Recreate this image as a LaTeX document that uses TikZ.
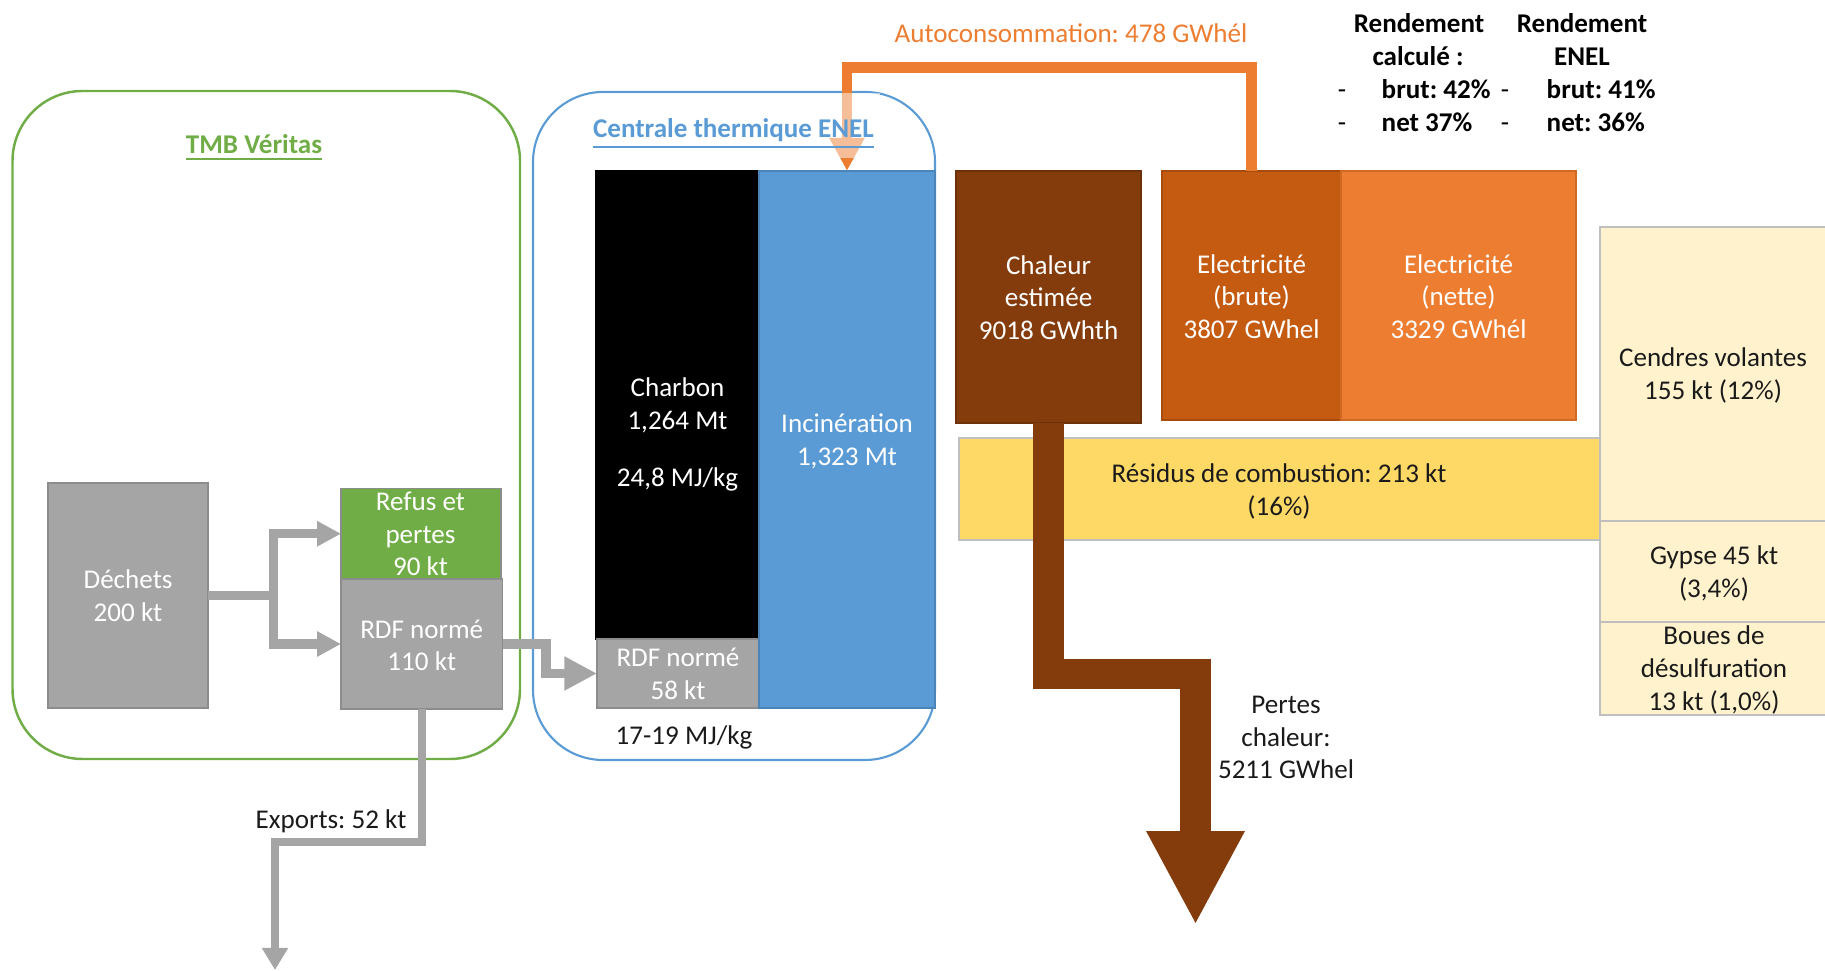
\documentclass[tikz,border=0pt]{standalone}
\usepackage{fontspec}
\setmainfont{Carlito}
\usetikzlibrary{arrows.meta}
\frenchspacing

\definecolor{grisbox}{HTML}{A5A5A5}
\definecolor{grisbord}{HTML}{8C8C8C}
\definecolor{vert}{HTML}{70AD47}
\definecolor{vertbord}{HTML}{5E9A3A}
\definecolor{bleu}{HTML}{5B9BD5}
\definecolor{bleubord}{HTML}{4A84B8}
\definecolor{brun}{HTML}{843C0C}
\definecolor{brunbord}{HTML}{6E320A}
\definecolor{orfonce}{HTML}{C55A11}
\definecolor{orfoncebord}{HTML}{A84C0E}
\definecolor{orclair}{HTML}{ED7D31}
\definecolor{orclairbord}{HTML}{CF6A26}
\definecolor{jaune}{HTML}{FFD966}
\definecolor{creme}{HTML}{FFF2CC}
\definecolor{cremebord}{HTML}{BFBFBF}
\definecolor{encre}{HTML}{1A1A1A}

\newcommand\fs{\fontsize{7.7}{9.3}\selectfont}

% rectangular block given by its two corners (pixel grid, y downwards)
\newcommand\bloc[6]{%
  \node[blk,#6,minimum width={(#4-#2)*0.01cm},minimum height={(#5-#3)*0.01cm}]
    (#1) at ({(#2+#4)/2},{(#3+#5)/2}) {};}

\tikzset{
  every node/.style={font=\fs},
  blk/.style={rectangle, inner sep=0pt, outer sep=0pt, line width=0.5pt},
  wtxt/.style={text=white, align=center, inner sep=0pt},
  dtxt/.style={text=encre, align=center, inner sep=0pt},
  one/.style={text height=5.3pt, text depth=1.4pt},
  titre/.style={font=\fs\bfseries, inner sep=0pt, one},
  gras/.style={font=\fs\bfseries, text=black, inner sep=0pt, one},
  gflow/.style={draw=grisbox, line width=2.6pt, line join=miter},
  heat/.style={draw=brun, line width=8.8pt, line join=miter,
    -{Triangle[length=26.7pt,width=26pt]}},
  selfuse/.style={draw=orclair, line width=3.1pt, line join=miter,
    -{Triangle[length=9.4pt,width=9.4pt]}},
}

\begin{document}
\begin{tikzpicture}[x=0.01cm,y=-0.01cm]
\useasboundingbox (0,0) rectangle (1825,971);

% ---- enclosures ----
\bloc{tmb}{12.5}{91}{520}{759}{draw=vert,line width=0.7pt,rounded corners=0.7cm}
\bloc{enel}{533}{92}{935}{760}{draw=bleu,line width=0.6pt,rounded corners=0.7cm}

% ---- sorting plant ----
\bloc{dech}{48}{483}{208}{708}{fill=grisbox,draw=grisbord}
\bloc{refus}{341}{488.5}{501}{579}{fill=vert,draw=grisbord}
\bloc{rdf1}{341}{579}{502.5}{709}{fill=grisbox,draw=grisbord}
\node[wtxt] (dech-t) at (dech.center) {Déchets\\200 kt};
\node[wtxt] (refus-t) at (420.5,534) {Refus et\\pertes\\90 kt};
\node[wtxt] (rdf1-t) at (421.75,645.5) {RDF normé\\110 kt};

% ---- power plant inputs ----
\bloc{charb}{596}{171}{759}{639}{fill=black,draw=black}
\bloc{rdf2}{597}{639}{759}{708}{fill=grisbox,draw=grisbord}
\bloc{incin}{759}{171}{935}{708}{fill=bleu,draw=bleubord}
\node[wtxt] (charb-t) at (677.5,434.5) {Charbon\\1,264 Mt\\[7pt]24,8 MJ/kg};
\node[wtxt] (rdf2-t) at (678,674) {RDF normé\\58 kt};
\node[wtxt] (incin-t) at (847,441.5) {Incinération\\1,323 Mt};
\node[dtxt,one] (pci-t) at (684,737.5) {17-19 MJ/kg};

% ---- outputs ----
\bloc{chal}{956}{171}{1141}{423}{fill=brun,draw=brunbord}
\bloc{elecb}{1162}{171}{1341}{420}{fill=orfonce,draw=orfoncebord}
\bloc{elecn}{1341}{171}{1576}{420}{fill=orclair,draw=orclairbord}
\node[wtxt] (chal-t) at (1048.5,297.5) {Chaleur\\estimée\\9018 GWhth};
\node[wtxt] (elecb-t) at (1251.5,296.5) {Electricité\\(brute)\\3807 GWhel};
\node[wtxt] (elecn-t) at (1458.5,296.5) {Electricité\\(nette)\\3329 GWhél};

% ---- combustion residues ----
\bloc{resid}{959}{438}{1600}{540}{fill=jaune,draw=cremebord}
\bloc{cendr}{1600}{227}{1830}{521}{fill=creme,draw=cremebord}
\bloc{gyps}{1600}{521}{1830}{622}{fill=creme,draw=cremebord}
\bloc{boues}{1600}{622}{1830}{715}{fill=creme,draw=cremebord}
\node[dtxt] (resid-t) at (1279,491.5) {Résidus de combustion: 213 kt\\(16\%)};
\node[dtxt] (cendr-t) at (1713,375.5) {Cendres volantes\\155 kt (12\%)};
\node[dtxt] (gyps-t) at (1714,573.5) {Gypse 45 kt\\(3,4\%)};
\node[dtxt] (boues-t) at (1714,670) {Boues de\\désulfuration\\13 kt (1,0\%)};

% ---- grey mass flows ----
\coordinate (split) at (273.5,595.5);
\draw[gflow] (dech.east) -- (split);
\draw[gflow,-{Triangle[length=6.8pt,width=6.8pt]}] (split) |- (refus.west);
\draw[gflow,-{Triangle[length=6.8pt,width=6.8pt]}] (split) |- (rdf1.west);
\coordinate (rbend) at (546,644);
\draw[gflow,line width=2.8pt,-{Triangle[length=9.3pt,width=9.1pt]}]
  (rdf1.east) -- (rbend) |- (rdf2.west);
\coordinate (ebend) at (421.75,842);
\coordinate (eend) at (275,970);
\draw[gflow,line width=2.3pt,-{Triangle[length=6.3pt,width=7.1pt]}]
  (rdf1.south) -- (ebend) -| (eend);
\node[dtxt,one] (exp-t) at (331,822) {Exports: 52 kt};

% ---- heat losses ----
\coordinate (hbend) at (1195.5,674);
\coordinate (hend) at (1195.5,925);
\draw[heat] (chal.south) |- (hbend) -- (hend);
\node[dtxt] (pertes-t) at (1286,737.5) {Pertes\\chaleur:\\5211 GWhel};

% ---- self-consumption loop ----
\coordinate (abend) at (847,67.5);
\draw[selfuse] (elecb.north) |- (abend) -- (incin.north);
\fill[white,opacity=0.5] (600,93.5) rectangle (880,158);
\node[text=orclair,inner sep=0pt,one] (auto-t) at (1071,36) {Autoconsommation: 478 GWhél};

% ---- titles ----
\node[titre,text=vert] (tmb-h) at (254,147) {\underline{TMB Véritas}};
\node[titre,text=bleu] (enel-h) at (733.5,131) {\underline{Centrale thermique ENEL}};

% ---- efficiencies ----
\node[gras] (rc1) at (1419,25.5) {Rendement};
\node[gras] (rc2) at (1418,58.5) {calculé :};
\node[gras] (re1) at (1582,25.5) {Rendement};
\node[gras] (re2) at (1582,58.5) {ENEL};
\node[inner sep=0pt,one] (d1) at (1342,91.5) {-};
\node[inner sep=0pt,one] (d2) at (1342,124.5) {-};
\node[inner sep=0pt,one] (d3) at (1505,91.5) {-};
\node[inner sep=0pt,one] (d4) at (1505,124.5) {-};
\node[gras,anchor=west] (rc3) at (1381,91.5) {brut: 42\%};
\node[gras,anchor=west] (rc4) at (1381,124.5) {net 37\%};
\node[gras,anchor=west] (re3) at (1546,91.5) {brut: 41\%};
\node[gras,anchor=west] (re4) at (1546,124.5) {net: 36\%};
\end{tikzpicture}
\end{document}
